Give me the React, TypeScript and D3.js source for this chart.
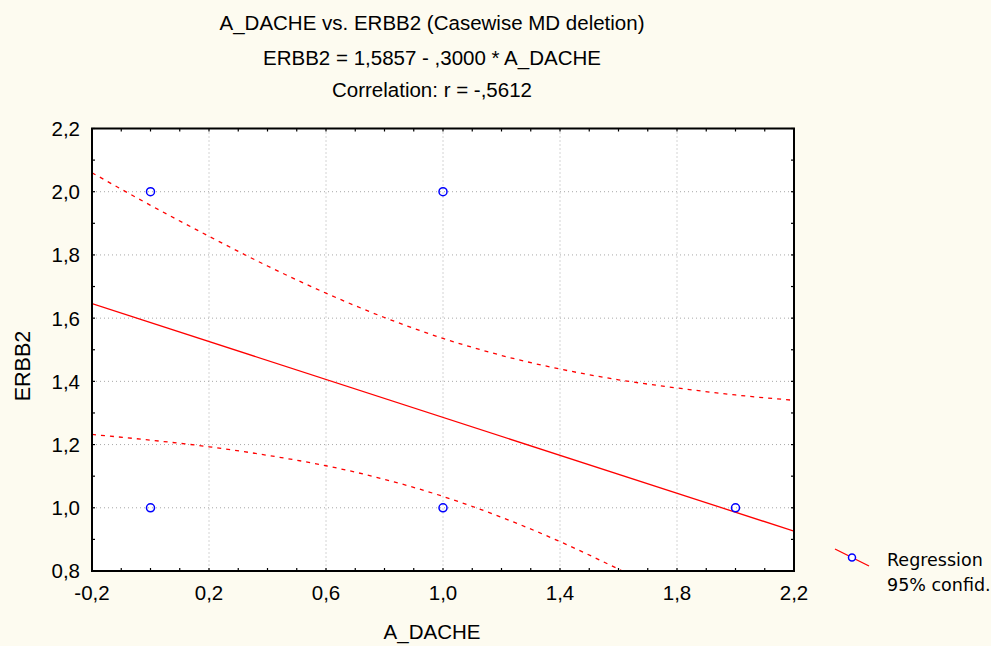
import { useEffect, useRef } from "react";
import * as d3 from "d3";

// observed cases
const caseX = [0, 0, 1, 1, 2];
const caseY = [2.0, 1.0, 2.0, 1.0, 1.0];

// fitted line, read at the frame edges
const fitX = [-0.2, 2.2];
const fitY = [1.646, 0.926];

// 95% confidence band
const bandX = [-0.2, 0, 0.2, 0.4, 0.6, 0.8, 1.0, 1.2, 1.4, 1.6, 1.8, 2.0, 2.2];
const bandUpper = [2.06, 1.957, 1.859, 1.765, 1.679, 1.602, 1.536, 1.482, 1.439, 1.405, 1.379, 1.357, 1.34];
const bandLower = [1.232, 1.214, 1.193, 1.166, 1.133, 1.09, 1.036, 0.97, 0.893, 0.806, 0.713];

const xTicksMajor = [-0.2, 0.2, 0.6, 1.0, 1.4, 1.8, 2.2];
const yTicksMajor = [0.8, 1.0, 1.2, 1.4, 1.6, 1.8, 2.0, 2.2];

const titleLines = [
  "A_DACHE vs. ERBB2 (Casewise MD deletion)",
  "ERBB2 = 1,5857 -  ,3000 * A_DACHE",
  "Correlation: r = -,5612",
];
const xTitle = "A_DACHE";
const yTitle = "ERBB2";
const legendLines = ["Regression", "95% confid."];

const W = 991;
const H = 646;
const BG = "#fdfbf0";
const RED = "#ff0000";
const BLUE = "#0000ff";
const FONT = "'Liberation Sans', Arial, sans-serif";
const FS = 20.5;

// Statistica style: decimal comma, plain hyphen for minus
const fmt = (d: number) => d3.format(".1f")(d).replace(".", ",").replace("\u2212", "-");

export default function App() {
  const ref = useRef<SVGSVGElement | null>(null);

  useEffect(() => {
    const el = ref.current;
    if (!el) return;
    const svg = d3.select(el);
    svg.selectAll("*").remove();

    const plot = { left: 92, right: 794, top: 128.5, bottom: 571 };

    const x = d3.scaleLinear().domain([-0.2, 2.2]).range([plot.left, plot.right]);
    const y = d3.scaleLinear().domain([0.8, 2.2]).range([plot.bottom, plot.top]);

    svg.append("rect").attr("width", W).attr("height", H).attr("fill", BG);

    const clipId = "plot-clip";
    svg
      .append("defs")
      .append("clipPath")
      .attr("id", clipId)
      .append("rect")
      .attr("x", plot.left)
      .attr("y", plot.top)
      .attr("width", plot.right - plot.left)
      .attr("height", plot.bottom - plot.top);

    svg
      .append("rect")
      .attr("x", plot.left)
      .attr("y", plot.top)
      .attr("width", plot.right - plot.left)
      .attr("height", plot.bottom - plot.top)
      .attr("fill", "#ffffff");

    // dotted grid at labelled values
    const grid = svg.append("g").attr("stroke", "#a8a8a8").attr("stroke-dasharray", "1,3");
    xTicksMajor.slice(1, -1).forEach((v) => {
      grid.append("line").attr("x1", x(v)).attr("x2", x(v)).attr("y1", plot.top).attr("y2", plot.bottom);
    });
    yTicksMajor.slice(1, -1).forEach((v) => {
      grid.append("line").attr("x1", plot.left).attr("x2", plot.right).attr("y1", y(v)).attr("y2", y(v));
    });

    const g = svg.append("g").attr("clip-path", `url(#${clipId})`);

    const line = d3
      .line<[number, number]>()
      .x((d) => x(d[0]))
      .y((d) => y(d[1]))
      .curve(d3.curveMonotoneX);

    const upper = bandX.map((v, i) => [v, bandUpper[i]] as [number, number]);
    const lower = bandLower.map((v, i) => [bandX[i], v] as [number, number]);
    [upper, lower].forEach((pts) => {
      g.append("path")
        .attr("d", line(pts))
        .attr("fill", "none")
        .attr("stroke", RED)
        .attr("stroke-width", 1.3)
        .attr("stroke-dasharray", "4,5");
    });

    g.append("path")
      .attr("d", line(fitX.map((v, i) => [v, fitY[i]] as [number, number])))
      .attr("fill", "none")
      .attr("stroke", RED)
      .attr("stroke-width", 1.3);

    g.selectAll("circle.case")
      .data(caseX.map((v, i) => [v, caseY[i]]))
      .join("circle")
      .attr("class", "case")
      .attr("cx", (d) => x(d[0]))
      .attr("cy", (d) => y(d[1]))
      .attr("r", 4)
      .attr("fill", "none")
      .attr("stroke", BLUE)
      .attr("stroke-width", 1.5);

    // inward ticks on all four sides, every 0.1
    const minorX = d3.range(-0.2, 2.2001, 0.1);
    const minorY = d3.range(0.8, 2.2001, 0.1);
    const ticks = svg.append("g").attr("stroke", "#000").attr("stroke-width", 1.2);
    minorX.forEach((v) => {
      ticks.append("line").attr("x1", x(v)).attr("x2", x(v)).attr("y1", plot.bottom).attr("y2", plot.bottom - 3);
      ticks.append("line").attr("x1", x(v)).attr("x2", x(v)).attr("y1", plot.top).attr("y2", plot.top + 3);
    });
    minorY.forEach((v) => {
      ticks.append("line").attr("x1", plot.left).attr("x2", plot.left + 3).attr("y1", y(v)).attr("y2", y(v));
      ticks.append("line").attr("x1", plot.right).attr("x2", plot.right - 3).attr("y1", y(v)).attr("y2", y(v));
    });

    svg
      .append("rect")
      .attr("x", plot.left)
      .attr("y", plot.top)
      .attr("width", plot.right - plot.left)
      .attr("height", plot.bottom - plot.top)
      .attr("fill", "none")
      .attr("stroke", "#000")
      .attr("stroke-width", 2);

    const txt = svg.append("g").attr("font-family", FONT).attr("fill", "#000").attr("font-size", FS);

    xTicksMajor.forEach((v) => {
      txt.append("text").attr("x", x(v)).attr("y", 600).attr("text-anchor", "middle").text(fmt(v));
    });
    yTicksMajor.forEach((v) => {
      txt.append("text").attr("x", 80).attr("y", y(v)).attr("dy", "0.36em").attr("text-anchor", "end").text(fmt(v));
    });

    const titleY = [30, 64.5, 97];
    titleLines.forEach((t, i) => {
      txt.append("text").attr("x", 432).attr("y", titleY[i]).attr("text-anchor", "middle").text(t);
    });

    txt.append("text").attr("x", 432).attr("y", 639).attr("text-anchor", "middle").text(xTitle);
    txt
      .append("text")
      .attr("transform", "translate(30,366) rotate(-90)")
      .attr("text-anchor", "middle")
      .attr("font-size", 21.5)
      .text(yTitle);

    // legend
    const leg = svg.append("g");
    leg.append("line").attr("x1", 835).attr("y1", 549).attr("x2", 869).attr("y2", 566).attr("stroke", RED).attr("stroke-width", 1.3);
    leg.append("circle").attr("cx", 852).attr("cy", 557.5).attr("r", 3.5).attr("fill", "#fff").attr("stroke", BLUE).attr("stroke-width", 1.5);
    legendLines.forEach((t, i) => {
      leg
        .append("text")
        .attr("x", 887)
        .attr("y", 566 + i * 25)
        .attr("font-family", "'DejaVu Sans', Verdana, sans-serif")
        .attr("font-size", 17.5)
        .attr("fill", "#000")
        .text(t);
    });
  }, []);

  return (
    <svg
      ref={ref}
      width={W}
      height={H}
      style={{ position: "absolute", left: 0, top: 0, display: "block" }}
    />
  );
}
